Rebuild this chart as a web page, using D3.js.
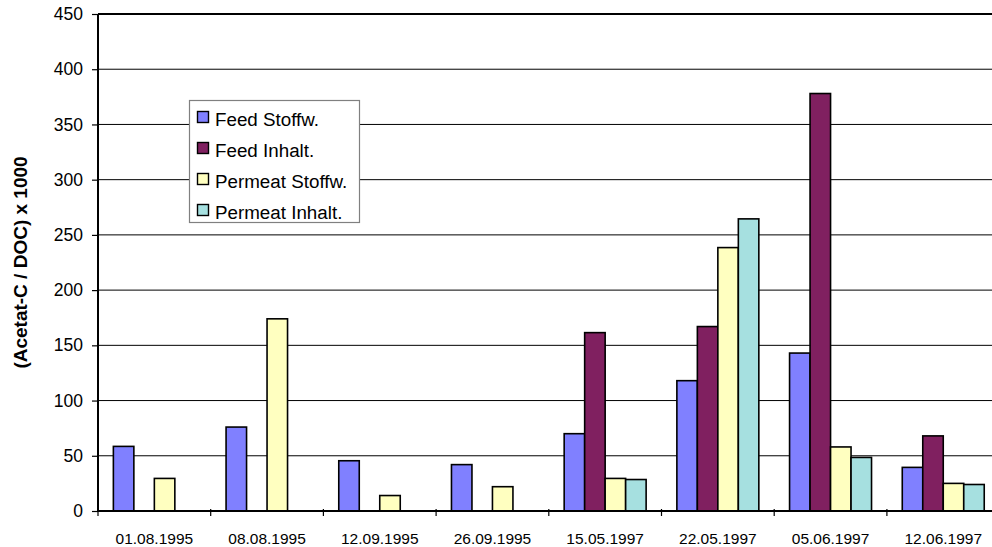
<!DOCTYPE html>
<html>
<head>
<meta charset="utf-8">
<script src="https://cdn.jsdelivr.net/npm/d3@7"></script>
<style>
  html, body { margin: 0; padding: 0; background: #fff; }
  svg { display: block; font-family: "Liberation Sans", Arial, sans-serif; }
</style>
</head>
<body>
<svg id="chart" width="992" height="547"></svg>
<script>
// ---- data ----
const categories = ["01.08.1995", "08.08.1995", "12.09.1995", "26.09.1995",
                    "15.05.1997", "22.05.1997", "05.06.1997", "12.06.1997"];
const seriesNames = ["Feed Stoffw.", "Feed Inhalt.", "Permeat Stoffw.", "Permeat Inhalt."];
const feedStoffw    = [58.5, 76, 45.5, 42, 70, 118, 143, 39.5];
const feedInhalt    = [null, null, null, null, 161.5, 167, 378, 68];
const permeatStoffw = [29.5, 174, 14, 22, 29.5, 238.5, 58, 25];
const permeatInhalt = [null, null, null, null, 28.5, 264.5, 48.5, 24];
const yTicks = [0, 50, 100, 150, 200, 250, 300, 350, 400, 450];
const yTitle = "(Acetat-C / DOC) x 1000";

const seriesValues = [feedStoffw, feedInhalt, permeatStoffw, permeatInhalt];
const colors = ["#8080FF", "#802060", "#FFFFC0", "#A6E0E0"];

// ---- layout ----
const svg = d3.select("#chart");
const pLeft = 98, pTop = 14, pBottom = 511;
const catW = 112.7;
const pRight = pLeft + catW * categories.length;

const x0 = d3.scaleBand().domain(categories).range([pLeft, pRight]).padding(0);
const bw = x0.bandwidth();
const gap = bw * 0.75 / 5.5;
const x1 = d3.scaleBand().domain(seriesNames).range([gap, bw - gap]).padding(0);
const y = d3.scaleLinear().domain([0, 450]).range([pBottom, pTop]);

// gridlines
svg.append("g").selectAll("line")
  .data(yTicks.filter(t => t > 0 && t < 450))
  .join("line")
  .attr("x1", pLeft).attr("x2", pRight)
  .attr("y1", d => y(d)).attr("y2", d => y(d))
  .attr("stroke", "#000").attr("stroke-width", 1);

// top border of plot
svg.append("line")
  .attr("x1", pLeft).attr("x2", pRight)
  .attr("y1", y(450)).attr("y2", y(450))
  .attr("stroke", "#000").attr("stroke-width", 2);

// bars
const flat = [];
categories.forEach((c, i) => {
  seriesNames.forEach((s, j) => {
    const v = seriesValues[j][i];
    if (v !== null && v !== undefined) flat.push({ c, s, v, j });
  });
});
svg.append("g").selectAll("rect")
  .data(flat)
  .join("rect")
  .attr("x", d => x0(d.c) + x1(d.s))
  .attr("width", x1.bandwidth())
  .attr("y", d => y(d.v))
  .attr("height", d => y(0) - y(d.v))
  .attr("fill", d => colors[d.j])
  .attr("stroke", "#000")
  .attr("stroke-width", 1.6);

// y axis
const yAxis = d3.axisLeft(y).tickValues(yTicks).tickSize(6).tickPadding(9).tickFormat(d3.format("d"));
const gy = svg.append("g").attr("transform", `translate(${pLeft},0)`).call(yAxis);
gy.select(".domain").attr("stroke", "#000").attr("stroke-width", 2)
  .attr("d", `M0,${pTop}V${pBottom}`);
gy.selectAll(".tick line").attr("stroke", "#000").attr("stroke-width", 1.2);
gy.selectAll(".tick text").attr("font-size", 17.5).attr("fill", "#000")
  .attr("font-family", "'Liberation Sans', Arial, sans-serif");

// x axis
const xAxis = d3.axisBottom(x0).tickSize(0).tickPadding(22);
const gx = svg.append("g").attr("transform", `translate(0,${pBottom})`).call(xAxis);
gx.select(".domain").attr("stroke", "#000").attr("stroke-width", 2)
  .attr("d", `M${pLeft},0H${pRight}`);
gx.selectAll(".tick text").attr("font-size", 15.5).attr("fill", "#000")
  .attr("font-family", "'Liberation Sans', Arial, sans-serif");
// category boundary ticks
gx.append("g").selectAll("line")
  .data(categories)
  .join("line")
  .attr("x1", d => x0(d)).attr("x2", d => x0(d))
  .attr("y1", -2).attr("y2", 5)
  .attr("stroke", "#000").attr("stroke-width", 1.2);

// y title
svg.append("text")
  .attr("transform", `translate(27,${(pTop + pBottom) / 2}) rotate(-90)`)
  .attr("text-anchor", "middle")
  .attr("font-weight", "bold")
  .attr("font-size", 19)
  .attr("fill", "#000")
  .text(yTitle);

// legend
const lg = svg.append("g");
lg.append("rect")
  .attr("x", 189.5).attr("y", 100.5).attr("width", 170).attr("height", 122)
  .attr("fill", "#fff").attr("stroke", "#808080").attr("stroke-width", 1.2);
const rows = lg.selectAll("g.row").data(seriesNames).join("g")
  .attr("class", "row")
  .attr("transform", (d, i) => `translate(0,${126 + 31 * i})`);
rows.append("rect")
  .attr("x", 197.5).attr("y", -14.5).attr("width", 11).attr("height", 11)
  .attr("fill", (d, i) => colors[i]).attr("stroke", "#000").attr("stroke-width", 1.4);
rows.append("text")
  .attr("x", 215).attr("y", 0)
  .attr("font-size", 18.8).attr("fill", "#000")
  .text(d => d);
</script>
</body>
</html>
